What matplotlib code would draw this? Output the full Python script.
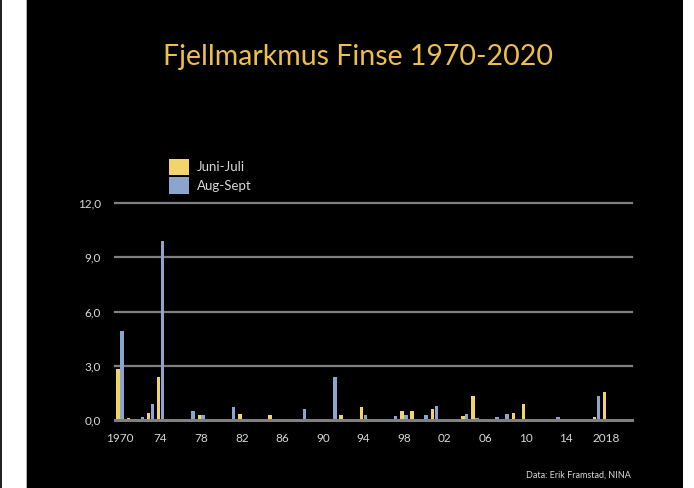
import matplotlib.pyplot as plt
from matplotlib.patches import Rectangle
import numpy as np

# Data (vole counts per season, Finse)
years = list(range(1970, 2021))
juni_juli = [2.8, 0.1, 0, 0.4, 2.4, 0, 0, 0, 0.3, 0,
             0, 0, 0.35, 0, 0, 0.3, 0, 0, 0.05, 0.05,
             0.05, 0, 0.3, 0.05, 0.7, 0, 0, 0.05, 0.5, 0.5,
             0.05, 0.6, 0, 0, 0.2, 1.3, 0, 0.05, 0.05, 0.4,
             0.9, 0, 0, 0, 0, 0, 0, 0.15, 1.55, 0,
             0]
aug_sept = [4.9, 0, 0.15, 0.9, 9.9, 0, 0, 0.5, 0.3, 0,
            0, 0.7, 0.05, 0, 0.05, 0, 0, 0, 0.6, 0,
            0, 2.4, 0, 0, 0.3, 0, 0, 0.2, 0.3, 0,
            0.3, 0.8, 0, 0, 0.35, 0.1, 0.05, 0.15, 0.35, 0,
            0, 0, 0, 0.15, 0, 0, 0, 1.35, 0.05, 0,
            0]
tick_years = list(range(1970, 2019, 4))
tick_labels = ['1970', '74', '78', '82', '86', '90', '94', '98',
               '02', '06', '10', '14', '2018']
y_ticks = [0, 3, 6, 9, 12]
y_labels = ['0,0', '3,0', '6,0', '9,0', '12,0']

YELLOW = '#F2D46A'
BLUE = '#8CA5CF'
GRID = '#808080'
TEXT = '#D8D8D8'
FONT = 'Lato'

W, H = 694, 488
fig = plt.figure(figsize=(W / 100, H / 100), dpi=100)
fig.patch.set_facecolor('white')

# black slide background with thin edge lines
fig.patches.append(Rectangle((27 / W, 0), (683 - 27) / W, 1, transform=fig.transFigure,
                             facecolor='black', edgecolor='none', zorder=0))
fig.patches.append(Rectangle((26 / W, 0), 1.2 / W, 1, transform=fig.transFigure,
                             facecolor='#b0b0b0', edgecolor='none', zorder=0))
fig.patches.append(Rectangle((0, 0), 1.5 / W, 1, transform=fig.transFigure,
                             facecolor='#222222', edgecolor='none', zorder=0))

ax = fig.add_axes([115 / W, 1 - 420 / H, (632 - 115) / W, (420 - 203) / H])
ax.set_facecolor('none')
ax.set_zorder(2)

x = np.arange(len(years))
w = 0.34
ax.bar(x - w / 2 - 0.02, juni_juli, width=w, color=YELLOW, zorder=3, label='Juni-Juli')
ax.bar(x + w / 2 + 0.02, aug_sept, width=w, color=BLUE, zorder=3, label='Aug-Sept')

ax.set_xlim(-0.5, len(years) - 0.5)
ax.set_ylim(0, 12)
for v in y_ticks[1:]:
    ax.axhline(v, color=GRID, lw=1.6, zorder=1, clip_on=False)
ax.axhline(0, color=GRID, lw=2.2, zorder=4, clip_on=False)

ax.set_yticks(y_ticks)
ax.set_yticklabels(y_labels)
ax.set_xticks([years.index(y) for y in tick_years])
ax.set_xticklabels(tick_labels)
ax.tick_params(length=0, colors=TEXT, labelsize=8.5)
ax.tick_params(axis='y', pad=10)
ax.tick_params(axis='x', pad=9)
for lab in ax.get_xticklabels() + ax.get_yticklabels():
    lab.set_fontfamily(FONT)
for s in ax.spines.values():
    s.set_visible(False)

leg = ax.legend(loc='upper left', bbox_to_anchor=(0.104, 1.205), frameon=False,
                prop={'family': FONT, 'size': 9.5}, handlelength=1.5, handleheight=1.6,
                handletextpad=0.6, labelspacing=0.12, borderaxespad=0, borderpad=0)
for t in leg.get_texts():
    t.set_color(TEXT)

fig.text(358 / W, 1 - 57 / H, 'Fjellmarkmus Finse 1970-2020', color='#EDBE4C',
         fontsize=20.5, family=FONT, ha='center', va='center')
fig.text(578 / W, 1 - 475 / H, 'Data: Erik Framstad, NINA', color=TEXT,
         fontsize=6.5, family=FONT, ha='center', va='center')

fig.savefig('out.png', dpi=100, facecolor=fig.get_facecolor())
